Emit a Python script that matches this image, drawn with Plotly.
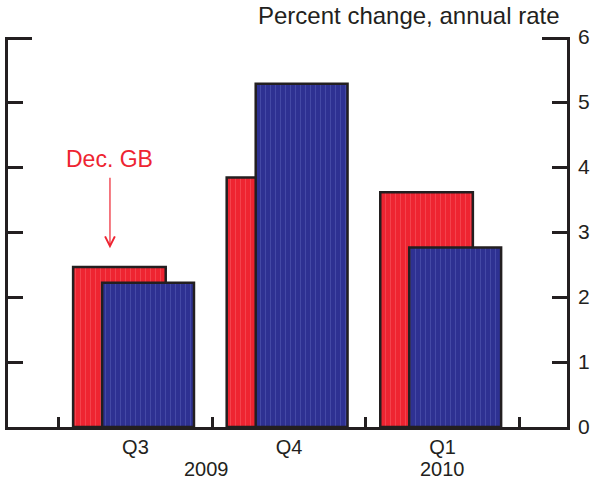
import plotly.graph_objects as go

quarters = ["Q3", "Q4", "Q1"]
dec_gb = [2.46, 3.84, 3.61]        # red: December Greenbook
current = [2.22, 5.28, 2.76]       # blue
years = ["2009", "2010"]
year_pos = [0.465, 2.0]
y_ticks = [0, 1, 2, 3, 4, 5, 6]

RED = "#EE2431"
BLUE = "#2E3192"
INK = "#231f20"
FONT = "Liberation Sans, Arial, sans-serif"

fig = go.Figure()
fig.add_trace(go.Bar(
    x=quarters, y=dec_gb, offset=-0.406, width=0.603,
    marker=dict(color=RED, line=dict(color=INK, width=2.5),
                pattern=dict(shape="|", fgcolor="#F8606A", size=5, solidity=0.2)),
    showlegend=False, hoverinfo="skip"))
fig.add_trace(go.Bar(
    x=quarters, y=current, offset=-0.217, width=0.598,
    marker=dict(color=BLUE, line=dict(color=INK, width=2.5),
                pattern=dict(shape="|", fgcolor="#5A62B8", size=5, solidity=0.2)),
    showlegend=False, hoverinfo="skip"))

axis_common = dict(showgrid=False, zeroline=False, fixedrange=True, automargin=False)

fig.update_layout(
    width=593, height=484, autosize=False,
    margin=dict(l=8, r=26, t=37, b=57, autoexpand=False),
    paper_bgcolor="white", plot_bgcolor="white",
    barmode="overlay",
    font=dict(family=FONT, color=INK, size=20),
    xaxis=dict(type="category", categoryorder="array", categoryarray=quarters,
               range=[-0.83, 2.81], tickson="boundaries", ticks="inside",
               ticklen=10, tickwidth=2.5, tickcolor=INK, automargin=False,
               showline=True, linewidth=3, linecolor=INK, showgrid=False,
               tickfont=dict(size=20, color=INK), ticklabelstandoff=0,
               fixedrange=True),
    yaxis=dict(**axis_common, range=[0, 6], side="left", tickvals=y_ticks,
               ticks="inside", ticklen=15, tickwidth=2.5, tickcolor=INK,
               showticklabels=False, showline=True, linewidth=2.5, linecolor=INK),
    yaxis2=dict(**axis_common, range=[0, 6], overlaying="y", side="right",
                tickvals=y_ticks, ticks="inside", ticklen=15, tickwidth=2.5,
                tickcolor=INK, showline=True, linewidth=2.5, linecolor=INK,
                tickfont=dict(size=21, color=INK), ticklabelstandoff=4),
    # helper axes: longer end ticks at the top value (range nudged so the
    # inside tick at the very end is not clipped away)
    yaxis3=dict(**axis_common, range=[0, 6.025], overlaying="y", side="left",
                tickvals=[y_ticks[-1]], ticks="inside", ticklen=24, tickwidth=2.5,
                tickcolor=INK, showticklabels=False, showline=False),
    yaxis4=dict(**axis_common, range=[0, 6.025], overlaying="y", side="right",
                tickvals=[y_ticks[-1]], ticks="inside", ticklen=25, tickwidth=2.5,
                tickcolor=INK, showticklabels=False, showline=False),
)

# invisible traces so the overlay axes are drawn
for ax in ["y2", "y3", "y4"]:
    fig.add_trace(go.Scatter(x=[quarters[0]], y=[0], yaxis=ax, mode="markers",
                             marker=dict(opacity=0), showlegend=False, hoverinfo="skip"))

annotations = [
    dict(text="Percent change, annual rate", xref="paper", yref="paper",
         x=0.991, y=1.056, xanchor="right", yanchor="middle", showarrow=False,
         font=dict(size=24, color=INK, family=FONT)),
    dict(text="Dec. GB", x=-0.166, y=2.75, xref="x", yref="y",
         showarrow=True, ax=0, ay=-89, arrowhead=5, arrowsize=1.6, arrowwidth=1.2,
         arrowcolor=RED, startstandoff=4,
         font=dict(size=23, color=RED, family=FONT)),
]
for label, pos in zip(years, year_pos):
    annotations.append(dict(text=label, x=pos, y=-0.1076, xref="x", yref="paper",
                            xanchor="center", yanchor="middle", showarrow=False,
                            font=dict(size=20, color=INK, family=FONT)))
fig.update_layout(annotations=annotations)

fig.write_html("out.html", config={"displayModeBar": False},
               post_script="document.body.style.margin='0';document.body.style.overflow='hidden';")
